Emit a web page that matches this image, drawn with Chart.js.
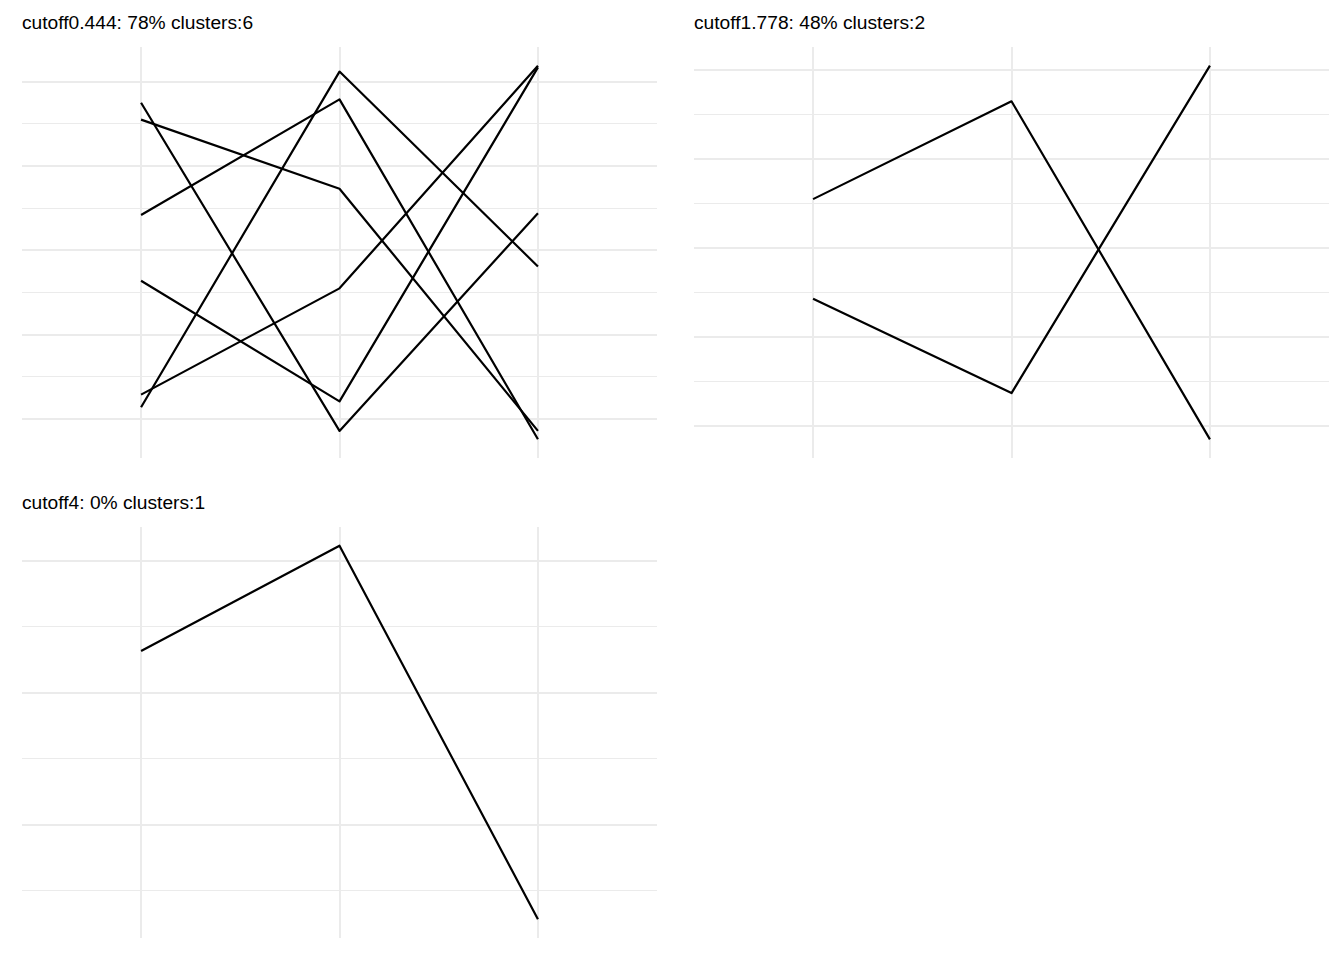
<!DOCTYPE html>
<html>
<head>
<meta charset="utf-8">
<script src="https://cdn.jsdelivr.net/npm/chart.js@4/dist/chart.umd.min.js"></script>
<style>
  html, body { margin: 0; padding: 0; background: #ffffff; }
  body { width: 1344px; height: 960px; position: relative; overflow: hidden; }
  .ttl { position: absolute; font-family: "Liberation Sans", Arial, sans-serif; font-size: 19.2px; line-height: 1; color: #000; white-space: nowrap; font-variant-ligatures: none; }
  canvas { position: absolute; }
</style>
</head>
<body>
<div class="ttl" id="t1" style="left:22px; top:13px;"></div>
<div class="ttl" id="t2" style="left:694px; top:13px;"></div>
<div class="ttl" id="t3" style="left:22px; top:493px;"></div>
<canvas id="c1" width="635" height="411" style="left:22px; top:47px;"></canvas>
<canvas id="c2" width="635" height="411" style="left:694px; top:47px;"></canvas>
<canvas id="c3" width="635" height="411" style="left:22px; top:527px;"></canvas>
<script>
// ---- data ----
const categories = [1, 2, 3];

const titles = [
  "cutoff0.444: 78% clusters:6",
  "cutoff1.778: 48% clusters:2",
  "cutoff4: 0% clusters:1"
];

// panel 1 (6 series)
const p1_s1 = [1.75, -2.14, 0.44];
const p1_s2 = [1.55, 0.73, -2.14];
const p1_s3 = [0.42, 1.79, -2.24];
const p1_s4 = [-0.36, -1.79, 2.17];
const p1_s5 = [-1.71, -0.45, 2.19];
const p1_s6 = [-1.86, 2.12, -0.19];

// panel 2 (2 series)
const p2_s1 = [0.55, 1.65, -2.15];
const p2_s2 = [-0.57, -1.63, 2.05];

// panel 3 (1 series)
const p3_s1 = [1.316, 2.114, -0.715];

// y tick values (gridlines)
const p1_yticks = [-2, -1.5, -1, -0.5, 0, 0.5, 1, 1.5, 2];
const p2_yticks = [-2, -1.5, -1, -0.5, 0, 0.5, 1, 1.5, 2];
const p3_yticks = [-0.5, 0, 0.5, 1, 1.5, 2];

// ---- rendering ----
const GRID = "#EBEBEB";

function makeChart(id, seriesList, yticks) {
  const all = seriesList.flat();
  const lo = Math.min(...all), hi = Math.max(...all);
  const pad = (hi - lo) * 0.05;
  const datasets = seriesList.map(s => ({
    data: s.map((v, i) => ({ x: categories[i], y: v })),
    borderColor: "#000000",
    borderWidth: 2.2,
    pointRadius: 0,
    pointHoverRadius: 0,
    borderJoinStyle: "round",
    fill: false,
    tension: 0
  }));
  return new Chart(document.getElementById(id), {
    type: "line",
    data: { datasets },
    options: {
      responsive: false,
      animation: false,
      devicePixelRatio: 1,
      layout: { padding: 0 },
      plugins: { legend: { display: false }, tooltip: { enabled: false }, title: { display: false } },
      scales: {
        x: {
          type: "linear",
          min: categories[0] - 0.6,
          max: categories[categories.length - 1] + 0.6,
          afterBuildTicks: sc => { sc.ticks = categories.map(v => ({ value: v })); },
          ticks: { display: false },
          border: { display: false },
          grid: { color: GRID, lineWidth: 2, drawTicks: false }
        },
        y: {
          type: "linear",
          min: lo - pad,
          max: hi + pad,
          afterBuildTicks: sc => { sc.ticks = yticks.map(v => ({ value: v })); },
          ticks: { display: false },
          border: { display: false },
          grid: {
            color: GRID,
            drawTicks: false,
            lineWidth: ctx => (ctx.tick && Number.isInteger(ctx.tick.value)) ? 2 : 1
          }
        }
      }
    }
  });
}

document.getElementById("t1").textContent = titles[0];
document.getElementById("t2").textContent = titles[1];
document.getElementById("t3").textContent = titles[2];

makeChart("c1", [p1_s1, p1_s2, p1_s3, p1_s4, p1_s5, p1_s6], p1_yticks);
makeChart("c2", [p2_s1, p2_s2], p2_yticks);
makeChart("c3", [p3_s1], p3_yticks);
</script>
</body>
</html>
